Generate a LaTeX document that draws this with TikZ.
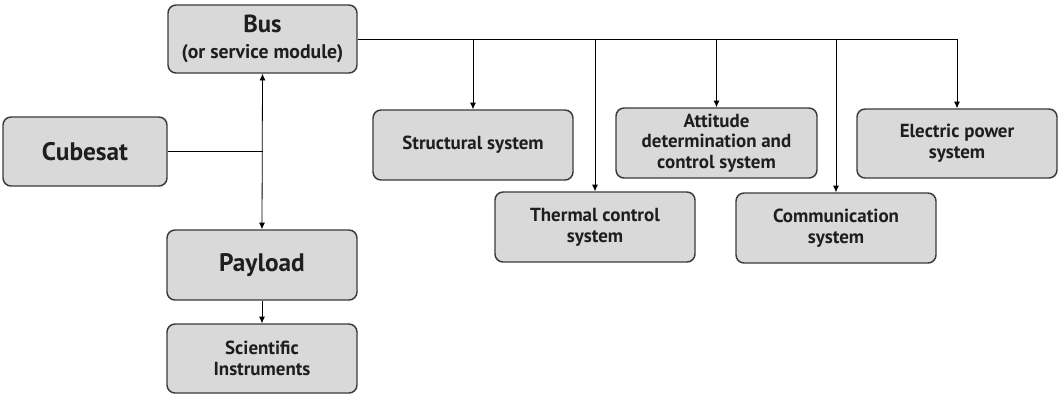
\documentclass[tikz,border=0pt]{standalone}
\usepackage{fontspec}
\setmainfont{PT Sans}
\usetikzlibrary{arrows.meta}
\definecolor{boxfill}{HTML}{D9D9D9}
\definecolor{boxline}{HTML}{3A3A3A}
\definecolor{txt}{HTML}{1E1E1E}
\begin{document}
\begin{tikzpicture}[x=0.75pt,y=-0.75pt,
  box/.style={draw=boxline,line width=1.1pt,fill=boxfill,rounded corners=6pt,
    align=center,text=txt,font=\bfseries\fontsize{14.2}{15.5}\selectfont,inner sep=2pt},
  big/.style={font=\bfseries\fontsize{19}{21}\selectfont},
  conn/.style={draw=black,line width=0.6pt},
  arr/.style={conn,-{Latex[length=5pt,width=4.5pt]}},
  darr/.style={conn,{Latex[length=5pt,width=4.5pt]}-{Latex[length=5pt,width=4.5pt]}}]
\useasboundingbox (0,0) rectangle (1058,394);
\node[box,minimum width=141.75pt,minimum height=51pt] (bus) at (262.5,39)
  {{\fontsize{18.5}{20}\selectfont Bus}\\[4pt]{\fontsize{14.8}{16}\selectfont (or service module)}};
\node[box,big,minimum width=123pt,minimum height=51.75pt] (cube) at (85,151.5) {Cubesat};
\node[box,big,minimum width=142.5pt,minimum height=52.5pt] (pay) at (262,265) {Payload};
\node[box,minimum width=142.5pt,minimum height=51.75pt] (sci) at (262,358.5) {Scientific\\Instruments};
\node[box,minimum width=150pt,minimum height=52.5pt] (str) at (473,145) {Structural system};
\node[box,minimum width=150pt,minimum height=52.5pt] (thr) at (595,227) {Thermal control\\system};
\node[box,minimum width=150.75pt,minimum height=52.5pt] (att) at (716.5,143) {Attitude\\determination and\\control system};
\node[box,minimum width=150pt,minimum height=52.5pt] (com) at (836,228) {Communication\\system};
\node[box,minimum width=150pt,minimum height=51.75pt] (ele) at (957,143.5) {Electric power\\system};
\draw[conn] (bus.east) -- (ele.north |- bus.east);
\draw[arr] (ele.north |- bus.east) -- (ele.north);
\draw[arr] (str.north |- bus.east) -- (str.north);
\draw[arr] (thr.north |- bus.east) -- (thr.north);
\draw[arr] (att.north |- bus.east) -- (att.north);
\draw[arr] (com.north |- bus.east) -- (com.north);
\draw[darr] (bus.south) -- (pay.north);
\draw[conn] (cube.east) -- (bus.south |- cube.east);
\draw[arr] (pay.south) -- (sci.north);
\end{tikzpicture}
\end{document}
